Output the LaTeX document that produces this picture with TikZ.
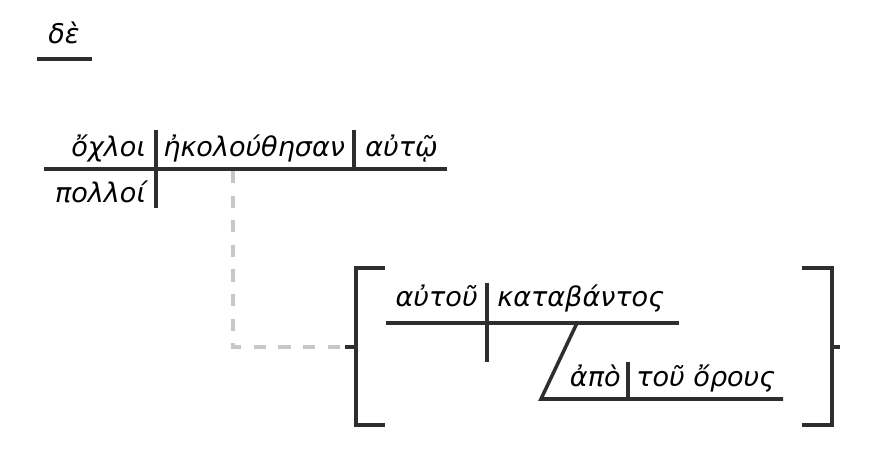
\documentclass[tikz,border=0pt]{standalone}
\usepackage{fontspec}
\setmainfont{DejaVu Sans}
\usepackage{xcolor}
\usetikzlibrary{positioning}

\begin{document}
\begin{tikzpicture}[x=0.02cm, y=-0.02cm,
          word/.style={inner sep=0pt, font=\fontsize{15.4}{18}\selectfont\itshape},
          rule/.style={line width=2pt, draw=black!82},
          link/.style={line width=2pt, draw=black!22, dash pattern=on 7pt off 7pt}]
          \useasboundingbox (0,0) rectangle (876,452);
          % conjunction
          \coordinate (deL) at (37,59); \coordinate (deR) at (92,59);
          \node[word, anchor=base] (de) at (64,44) {δὲ};
          \draw[rule] (deL)--(deR);
          % main clause
          \coordinate (mainL) at (44,169);  \coordinate (mainR) at (447,169);
          \coordinate (subjT) at (156,130); \coordinate (subjB) at (156,208);
          \coordinate (verbT) at (354,130); \coordinate (verbB) at (354,169);
          \node[word, anchor=base east] (subj) at (146,157) {ὄχλοι};
          \node[word, anchor=base west] (verb) at (163,157) {ἠκολούθησαν};
          \node[word, anchor=base west] (obj)  at (365,157) {αὐτῷ};
          \node[word, anchor=base east] (mod)  at (146,203) {πολλοί};
          \draw[rule] (mainL)--(mainR);
          \draw[rule] (subjT)--(subjB);
          \draw[rule] (verbT)--(verbB);
          % genitive absolute
          \coordinate (hook) at (233,171); \coordinate (brM) at (345,347);
          \coordinate (brLT) at (385,268); \coordinate (brLB) at (385,425);
          \coordinate (brLm) at (356,347);
          \coordinate (brRT) at (802,268); \coordinate (brRB) at (802,425);
          \coordinate (brRm) at (832,347); \coordinate (brRo) at (840,347);
          \draw[link] (hook) |- (brM);
          \draw[rule] (brM)--(brLm);
          \draw[rule] (brLT)-|(brLm)|-(brLB);
          \draw[rule] (brRT)-|(brRm)|-(brRB);
          \draw[rule] (brRm)--(brRo);
          \coordinate (subL) at (386,323); \coordinate (subR) at (679,323);
          \coordinate (gsT) at (487,283);  \coordinate (gsB) at (487,362);
          \node[word, anchor=base east] (gsubj) at (478,307) {αὐτοῦ};
          \node[word, anchor=base west] (gverb) at (497,307) {καταβάντος};
          \draw[rule] (subL)--(subR);
          \draw[rule] (gsT)--(gsB);
          % prepositional phrase
          \coordinate (ppT) at (577,323); \coordinate (ppL) at (541,399);
          \coordinate (ppR) at (783,399); \coordinate (ppD) at (628,362);
          \coordinate (ppDB) at (628,399);
          \node[word, anchor=base east] (prep) at (621,387) {ἀπὸ};
          \node[word, anchor=base west] (pobj) at (636,387) {τοῦ ὄρους};
          \draw[rule] (ppT)--(ppL)--(ppR);
          \draw[rule] (ppD)--(ppDB);
        \end{tikzpicture}
\end{document}
